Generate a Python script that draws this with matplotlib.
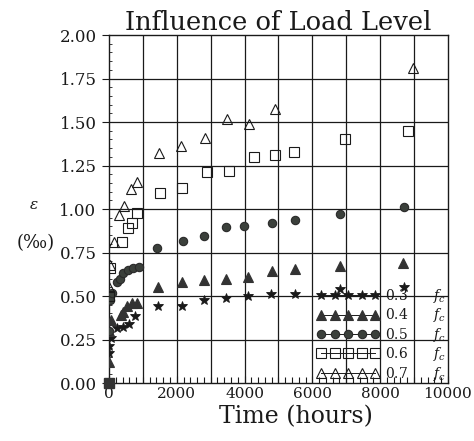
import matplotlib
matplotlib.use("Agg")
import matplotlib.pyplot as plt
from matplotlib.lines import Line2D
from matplotlib.ticker import MultipleLocator, FixedLocator

plt.rcParams['font.family'] = ['DejaVu Serif']
plt.rcParams['mathtext.fontset'] = 'dejavuserif'

# ---- data (time in hours, strain in permille) ----
t_03 = [0, 0, 60, 227, 422, 600, 767, 1445, 2150, 2800, 3450, 4100, 4780, 5490, 6810, 8700]
e_03 = [0.17, 0.21, 0.26, 0.315, 0.32, 0.34, 0.385, 0.44, 0.44, 0.48, 0.49, 0.50, 0.51, 0.51, 0.54, 0.55]

t_04 = [0, 0, 50, 345, 413, 530, 668, 825, 1445, 2150, 2800, 3450, 4100, 4810, 5490, 6810, 8670]
e_04 = [0.12, 0.30, 0.36, 0.39, 0.41, 0.44, 0.46, 0.46, 0.55, 0.58, 0.59, 0.60, 0.61, 0.645, 0.655, 0.67, 0.69]

t_05 = [0, 30, 100, 230, 325, 413, 560, 710, 885, 1415, 2180, 2800, 3450, 3980, 4810, 5490, 6810, 8700]
e_05 = [0.30, 0.48, 0.52, 0.58, 0.60, 0.63, 0.65, 0.66, 0.665, 0.775, 0.815, 0.845, 0.895, 0.90, 0.92, 0.935, 0.97, 1.01]

t_06 = [0, 30, 385, 560, 680, 825, 1505, 2150, 2890, 3540, 4280, 4900, 5460, 6960, 8820]
e_06 = [0.50, 0.66, 0.81, 0.89, 0.92, 0.98, 1.09, 1.12, 1.21, 1.22, 1.30, 1.31, 1.33, 1.40, 1.45]

t_07 = [0, 30, 150, 300, 440, 650, 825, 1475, 2120, 2830, 3480, 4130, 4900, 8970]
e_07 = [0.55, 0.68, 0.81, 0.965, 1.02, 1.115, 1.155, 1.32, 1.36, 1.41, 1.52, 1.49, 1.575, 1.81]

t_origin = [0]
e_origin = [0.0]

load_labels = ['0.3      $f_c$', '0.4      $f_c$', '0.5      $f_c$', '0.6      $f_c$', '0.7      $f_c$']
x_ticks = [0, 2000, 4000, 6000, 8000, 10000]
y_ticks = [0.00, 0.25, 0.50, 0.75, 1.00, 1.25, 1.50, 1.75, 2.00]

# ---- figure ----
fig = plt.figure(figsize=(4.74, 4.41), dpi=100)
ax = fig.add_axes([0.230, 0.1315, 0.715, 0.789])

ink = '#1a1a1a'
fill = '#333333'
styles = [
    dict(marker='*', ms=7, mfc=ink, mec=ink, mew=0.6),
    dict(marker='^', ms=7, mfc=fill, mec=fill, mew=0.8),
    dict(marker='o', ms=6, mfc='#3b403b', mec='#2a2a2a', mew=0.8),
    dict(marker='s', ms=6.5, mfc='none', mec=ink, mew=0.8),
    dict(marker='^', ms=7.5, mfc='none', mec=ink, mew=0.8),
]
series = [(t_03, e_03), (t_04, e_04), (t_05, e_05), (t_06, e_06), (t_07, e_07)]
for (t, e), st in zip(series, styles):
    ax.plot(t, e, ls='none', **st, zorder=3)
ax.plot(t_origin, e_origin, ls='none', marker='s', ms=7, mfc=fill, mec=fill, zorder=4, clip_on=False)

ax.set_xlim(0, 10000)
ax.set_ylim(0, 2.0)

ax.xaxis.set_major_locator(FixedLocator(x_ticks))
ax.xaxis.set_minor_locator(MultipleLocator(200))
ax.yaxis.set_major_locator(FixedLocator(y_ticks))
ax.yaxis.set_minor_locator(MultipleLocator(0.05))
ax.set_xticklabels([str(v) for v in x_ticks])
ax.set_yticklabels(['%.2f' % v for v in y_ticks])

# grid every 1000 h and every 0.25
for xv in range(1000, 10000, 1000):
    ax.axvline(xv, color=ink, lw=0.9, zorder=1)
for yv in y_ticks[1:-1]:
    ax.axhline(yv, color=ink, lw=0.9, zorder=1)

ax.tick_params(axis='x', which='major', direction='in', length=5, width=0.8,
               labelsize=11, pad=3, colors=ink)
ax.tick_params(axis='x', which='minor', direction='in', length=4, width=0.8, colors=ink)
ax.tick_params(axis='y', which='major', direction='out', length=5, width=0.8,
               labelsize=12, pad=4, colors=ink)
ax.tick_params(axis='y', which='minor', direction='in', length=2.5, width=0.6, colors=ink)
for sp in ax.spines.values():
    sp.set_linewidth(1.0)
    sp.set_color(ink)

ax.set_title('Influence of Load Level', fontsize=18.5, pad=4, color=ink, x=0.5)
ax.set_xlabel('Time (hours)', fontsize=17, labelpad=-1, color=ink)
ax.xaxis.set_label_coords(0.552, -0.065)
fig.text(0.072, 0.535, r'$\epsilon$', fontsize=11, ha='center', va='center', color=ink)
fig.text(0.075, 0.448, '(‰)', fontsize=13, ha='center', va='center', color=ink)

handles = [Line2D([], [], ls='-', lw=0.7, color=ink, **st) for st in styles]
leg = ax.legend(handles, load_labels, loc='lower right', bbox_to_anchor=(1.0, -0.005),
                numpoints=5, handlelength=4.5, handletextpad=0.4, labelspacing=0.1,
                borderaxespad=0.0, borderpad=0.15, frameon=False, fontsize=10)
for txt in leg.get_texts():
    txt.set_color(ink)

fig.savefig('out.png', dpi=100)
